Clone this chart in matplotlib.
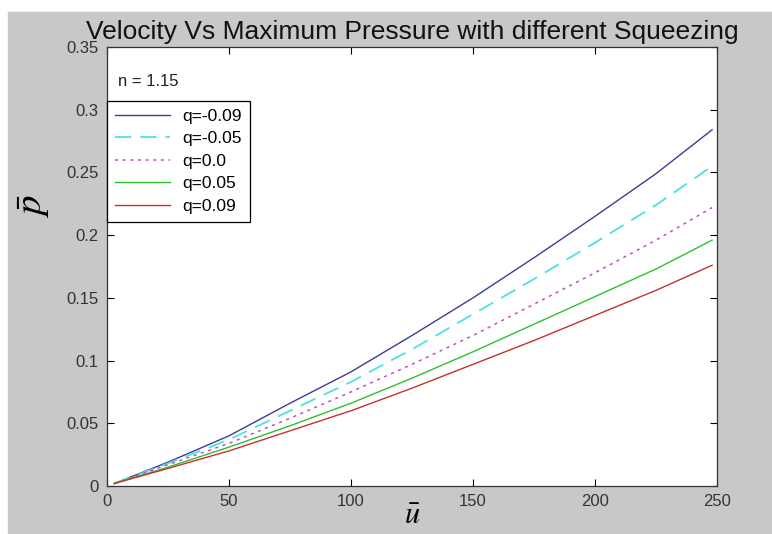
import numpy as np
import matplotlib
matplotlib.use('Agg')
import matplotlib.pyplot as plt
from matplotlib.patches import Rectangle

plt.rcParams['font.family'] = ['Liberation Sans', 'DejaVu Sans']
plt.rcParams['mathtext.fontset'] = 'stix'

# values
u = np.array([3, 25, 50, 75, 100, 125, 150, 175, 200, 225, 248])
p_m009 = np.array([0.002, 0.019, 0.040, 0.066, 0.091, 0.120, 0.150, 0.182, 0.215, 0.249, 0.284])
p_m005 = np.array([0.002, 0.018, 0.037, 0.060, 0.083, 0.109, 0.137, 0.165, 0.194, 0.224, 0.255])
p_0 = np.array([0.002, 0.017, 0.034, 0.054, 0.075, 0.097, 0.120, 0.145, 0.170, 0.196, 0.222])
p_005 = np.array([0.002, 0.015, 0.031, 0.048, 0.066, 0.086, 0.107, 0.129, 0.151, 0.173, 0.196])
p_009 = np.array([0.002, 0.014, 0.028, 0.044, 0.060, 0.078, 0.097, 0.116, 0.136, 0.156, 0.176])

labels = ['q=-0.09', 'q=-0.05', 'q=0.0', 'q=0.05', 'q=0.09']
xticks = [0, 50, 100, 150, 200, 250]
yticks = [0, 0.05, 0.1, 0.15, 0.2, 0.25, 0.3, 0.35]
ytick_labels = ['0', '0.05', '0.1', '0.15', '0.2', '0.25', '0.3', '0.35']

fig = plt.figure(figsize=(7.72, 5.34), dpi=100)
fig.patch.set_facecolor('white')
fig.patches.append(Rectangle((8 / 772, 0), 1, (534 - 12) / 534,
                             transform=fig.transFigure, color='#c8c8c8', zorder=-10))

ax = fig.add_axes([107 / 772, 48 / 534, 610 / 772, 439 / 534])
ax.set_facecolor('white')

ax.plot(u, p_m009, color='#3c3c9c', lw=1.0, label=labels[0])
ax.plot(u, p_m005, color='#4fe0e0', lw=1.3, ls=(0, (9, 5)), label=labels[1])
ax.plot(u, p_0, color='#c050c0', lw=1.1, ls=(0, (2, 3)), label=labels[2])
ax.plot(u, p_005, color='#2ec02e', lw=1.0, label=labels[3])
ax.plot(u, p_009, color='#c83030', lw=1.0, label=labels[4])

ax.set_xlim(0, 250)
ax.set_ylim(0, 0.35)
ax.set_xticks(xticks)
ax.set_yticks(yticks)
ax.set_yticklabels(ytick_labels)
ax.tick_params(direction='in', top=True, right=True, length=5, width=0.8,
               labelsize=12, labelcolor='#333333', pad=6)
for s in ax.spines.values():
    s.set_linewidth(0.9)
    s.set_color('#333333')

ax.set_title('Velocity Vs Maximum Pressure with different Squeezing',
             fontsize=19, pad=6, color='#111111')
ax.set_xlabel(r'$\bar{u}$', fontsize=22, va='center')
ax.xaxis.set_label_coords(0.5, -0.068)
ax.set_ylabel(r'$\bar{p}$', fontsize=28)
ax.yaxis.set_label_coords(-0.09, 0.64)

ax.text(0.018, 0.922, 'n = 1.15', transform=ax.transAxes, fontsize=12,
        va='center', ha='left', color='#222222')

leg = ax.legend(loc='upper left', bbox_to_anchor=(0, 0.877), borderaxespad=0,
                fontsize=12.5, handlelength=3.2, frameon=True, fancybox=False,
                edgecolor='black', framealpha=1, labelspacing=0.42,
                borderpad=0.45, handletextpad=0.7)
leg.get_frame().set_linewidth(0.9)

plt.savefig('out.png', dpi=100)
